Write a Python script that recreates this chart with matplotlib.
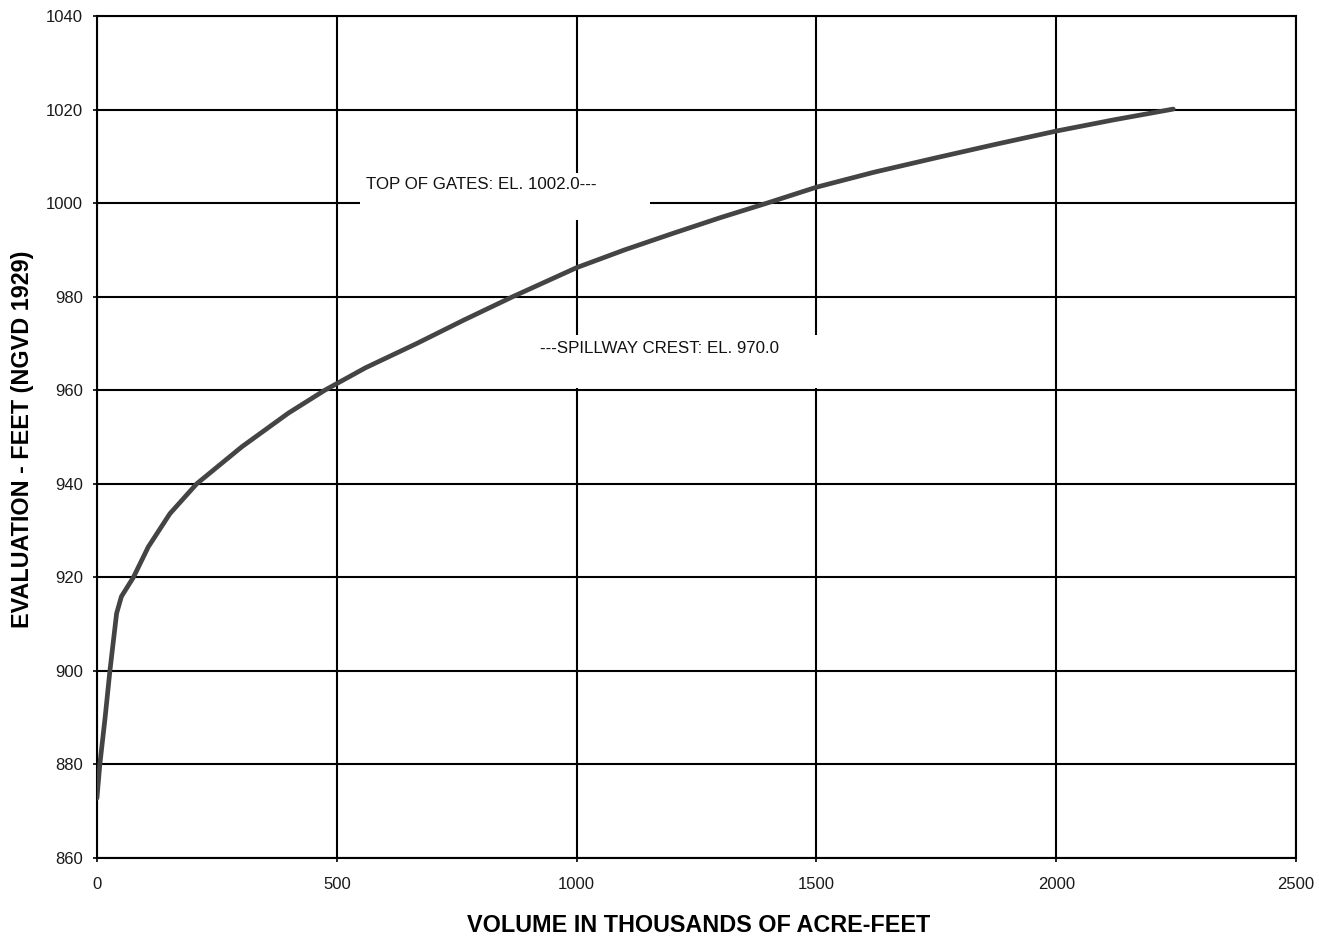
import matplotlib.pyplot as plt
from matplotlib.patches import Rectangle

# кривая объём - отметка
volume = [0, 6, 17, 27, 41, 51, 76, 107, 152, 208, 302, 399, 475, 560,
          667, 765, 867, 1000, 1100, 1200, 1300, 1397, 1500, 1620, 1750,
          1875, 2000, 2120, 2244]
elevation = [872.8, 880, 890, 900, 912.3, 915.9, 920, 926.5, 933.6, 940,
             947.9, 955.1, 960, 964.8, 970, 975, 980, 986.2, 990, 993.5,
             996.9, 1000, 1003.4, 1006.6, 1009.7, 1012.6, 1015.4, 1017.8,
             1020.1]

x_ticks = [0, 500, 1000, 1500, 2000, 2500]
y_ticks = [860, 880, 900, 920, 940, 960, 980, 1000, 1020, 1040]

gates_label = "TOP OF GATES: EL. 1002.0---"
spillway_label = "---SPILLWAY CREST: EL. 970.0"

plt.rcParams['font.family'] = ['Liberation Sans', 'DejaVu Sans']

fig = plt.figure(figsize=(13.19, 9.41), dpi=100)
ax = fig.add_axes([0.0735, 0.0882, 0.9091, 0.8948])

ax.set_xlim(0, 2500)
ax.set_ylim(860, 1040)
ax.set_xticks(x_ticks)
ax.set_yticks(y_ticks)
ax.grid(True, color='black', linewidth=1.5)
ax.set_axisbelow(True)
for s in ax.spines.values():
    s.set_linewidth(1.5)
    s.set_color('black')
ax.tick_params(direction='out', length=3, width=1.2, labelsize=12,
               labelcolor='#1a1a1a')
ax.tick_params(axis='y', pad=7)
ax.tick_params(axis='x', pad=11)

# белые подложки под подписи
ax.add_patch(Rectangle((548, 996.4), 606, 10.0, facecolor='white',
                       edgecolor='none', zorder=2))
ax.add_patch(Rectangle((903, 960.5), 625, 11.3, facecolor='white',
                       edgecolor='none', zorder=2))

ax.plot(volume, elevation, color='#444444', linewidth=3.4, zorder=3,
        solid_capstyle='round', solid_joinstyle='round')

ax.text(561, 1003.9, gates_label, fontsize=12.2, color='#111111',
        va='center', ha='left', zorder=4)
ax.text(924, 969.0, spillway_label, fontsize=12.2, color='#111111',
        va='center', ha='left', zorder=4)

fig.text(0.53, 0.017, "VOLUME IN THOUSANDS OF ACRE-FEET", fontsize=16.8,
         fontweight='bold', ha='center', va='center')
fig.text(0.0167, 0.533, "EVALUATION - FEET (NGVD 1929)", fontsize=16.8,
         fontweight='bold', ha='center', va='center', rotation=90)

fig.savefig("out.png", dpi=100)
